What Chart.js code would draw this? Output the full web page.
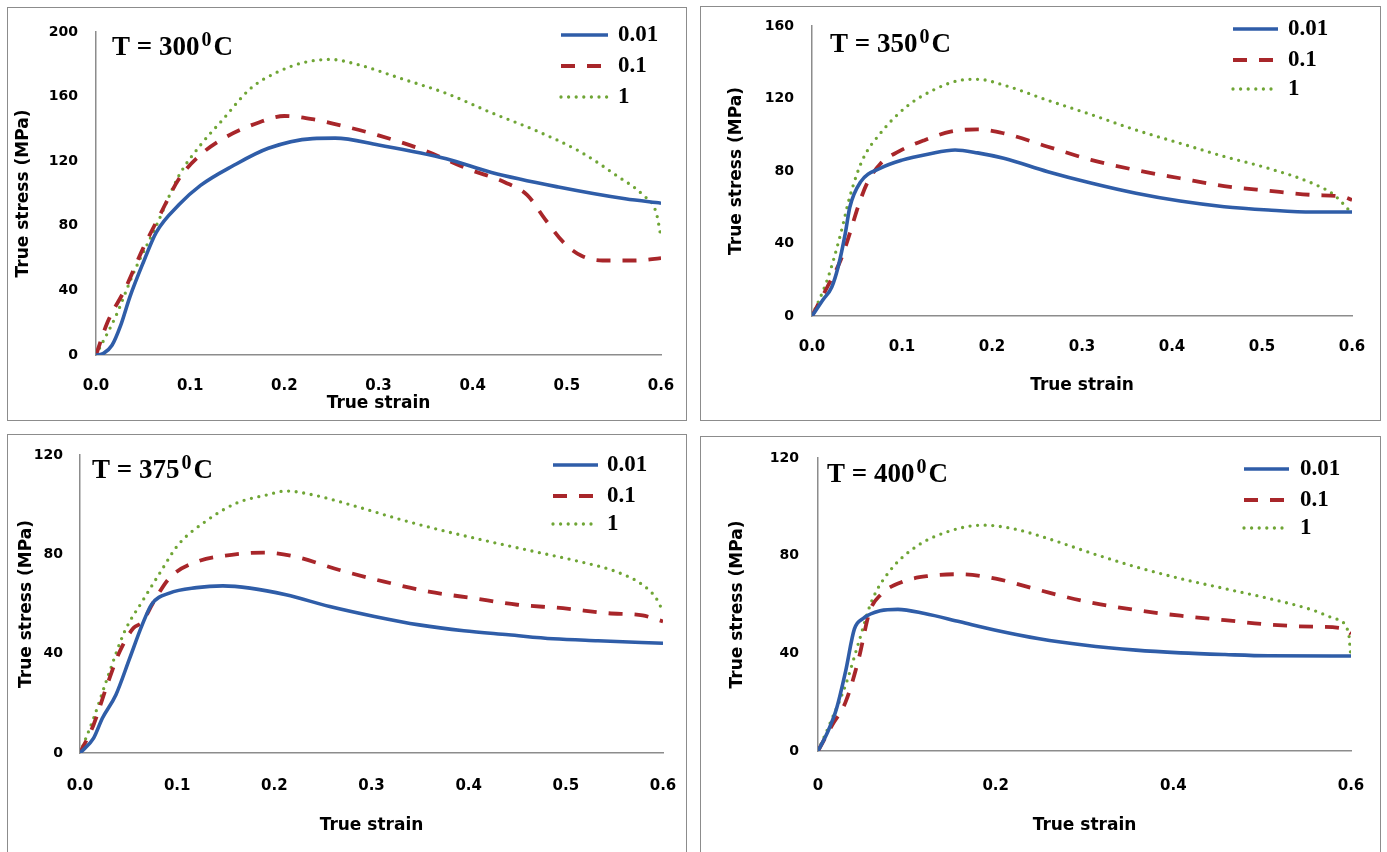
<!DOCTYPE html>
<html>
<head>
<meta charset="utf-8">
<title>True stress - true strain curves</title>
<script src="https://cdn.jsdelivr.net/npm/chart.js@4.4.0/dist/chart.umd.min.js"></script>
<style>
  html, body { margin: 0; padding: 0; background: #fff; width: 1387px; height: 852px; overflow: hidden; }
  .box { position: absolute; border: 1.5px solid #8c8c8c; box-sizing: border-box; }
  canvas { position: absolute; }
</style>
</head>
<body>
<script>
/* ===== Data (strain, stress in MPa) ===== */
const rateLabels = ['0.01', '0.1', '1'];
const temps = [300, 350, 375, 400];
const yMax = [200, 160, 120, 120];
const yStep = [40, 40, 40, 40];
const xStep = [0.1, 0.1, 0.1, 0.2];
const xTickLabels = [
  ['0.0', '0.1', '0.2', '0.3', '0.4', '0.5', '0.6'],
  ['0.0', '0.1', '0.2', '0.3', '0.4', '0.5', '0.6'],
  ['0.0', '0.1', '0.2', '0.3', '0.4', '0.5', '0.6'],
  ['0', '0.2', '0.4', '0.6']
];

// T = 300 C
const t300_r001 = [[0,0],[0.008,1],[0.017,6],[0.026,18],[0.036,36],[0.05,57],[0.064,76],[0.088,93],[0.111,105],[0.145,117],[0.183,128],[0.23,134],[0.254,134.3],[0.3,130],[0.372,121.5],[0.42,113],[0.491,104],[0.562,96.7],[0.6,94]];
const t300_r01 = [[0,0],[0.012,20],[0.031,41],[0.05,66],[0.069,88],[0.088,109],[0.111,124],[0.135,134],[0.173,144],[0.2,148],[0.23,146],[0.268,141],[0.3,136],[0.349,126.6],[0.396,115],[0.434,107],[0.458,99],[0.477,84],[0.496,70],[0.515,61.6],[0.538,58.5],[0.572,58.5],[0.6,60]];
const t300_r1 = [[0,0],[0.021,24],[0.04,51],[0.064,80],[0.088,111],[0.111,130],[0.135,146],[0.164,165],[0.192,175],[0.22,181],[0.249,183],[0.277,180],[0.325,171],[0.372,162],[0.42,150],[0.467,139],[0.515,125.6],[0.553,111],[0.581,99],[0.595,88],[0.6,73]];

// T = 350 C
const t350_r001 = [[0,0],[0.012,8.8],[0.022,16],[0.029,27],[0.037,45.6],[0.042,60],[0.054,74],[0.076,81.5],[0.1,86],[0.13,89.4],[0.159,91.6],[0.184,90],[0.213,87],[0.262,79.6],[0.311,73.2],[0.36,67.7],[0.409,63.4],[0.458,60.3],[0.507,58.5],[0.556,57.4],[0.6,57.4]];
const t350_r01 = [[0,0],[0.017,16],[0.032,31],[0.042,45.6],[0.051,60],[0.061,73],[0.076,84],[0.096,90.7],[0.125,97],[0.154,101.7],[0.184,103],[0.213,100.8],[0.262,93.4],[0.311,86],[0.36,80.5],[0.409,76],[0.458,71.7],[0.507,69.1],[0.556,66.8],[0.59,65.8],[0.6,64]];
const t350_r1 = [[0,0],[0.017,20],[0.032,45.6],[0.042,65.8],[0.056,86],[0.076,100.8],[0.105,115.5],[0.135,124.7],[0.164,130],[0.184,130.6],[0.213,127.4],[0.262,119],[0.311,111],[0.36,102.6],[0.409,95.3],[0.458,88],[0.507,81.5],[0.556,73.2],[0.58,66.8],[0.6,56.6]];

// T = 375 C
const t375_r001 = [[0,0],[0.014,6],[0.023,14],[0.037,23.5],[0.051,38],[0.064,51.6],[0.074,60],[0.092,64.4],[0.12,66.6],[0.147,67.3],[0.175,66.4],[0.212,63.7],[0.257,59],[0.303,55],[0.349,51.6],[0.395,49.2],[0.441,47.6],[0.487,46],[0.533,45.2],[0.6,44.2]];
const t375_r01 = [[0,0],[0.014,11.4],[0.028,27.5],[0.041,41],[0.055,50.3],[0.064,52.7],[0.076,61],[0.092,70.4],[0.12,77],[0.156,79.8],[0.189,80.7],[0.221,79.1],[0.267,73.7],[0.313,69],[0.359,65],[0.405,62.3],[0.45,59.7],[0.497,58.3],[0.543,56.3],[0.579,55.4],[0.6,53]];
const t375_r1 = [[0,0],[0.014,14],[0.028,30],[0.046,49],[0.064,61],[0.083,73],[0.101,83.8],[0.129,93.2],[0.161,100.6],[0.193,104],[0.212,105.5],[0.239,104],[0.285,99.2],[0.331,93.9],[0.377,89.2],[0.423,85],[0.469,81],[0.515,77],[0.552,73],[0.579,67.7],[0.593,62.3],[0.6,57]];

// T = 400 C
const t400_r001 = [[0,0],[0.011,7.9],[0.021,17.5],[0.031,32.5],[0.041,50],[0.051,54.3],[0.07,57.4],[0.09,58],[0.12,56.3],[0.16,52.9],[0.2,49.5],[0.249,46],[0.299,43.4],[0.358,41.3],[0.408,40.2],[0.458,39.5],[0.507,39],[0.6,38.9]];
const t400_r01 = [[0,0],[0.016,10.6],[0.031,20],[0.046,38],[0.058,57],[0.07,63.8],[0.095,69.3],[0.125,71.7],[0.16,72.4],[0.2,70.6],[0.249,65.9],[0.299,61.4],[0.358,57.7],[0.408,55.4],[0.458,53.6],[0.507,51.8],[0.557,50.9],[0.591,50.2],[0.6,48]];
const t400_r1 = [[0,0],[0.016,13.4],[0.031,27],[0.046,44.7],[0.06,61],[0.08,73.4],[0.11,83.6],[0.145,89.7],[0.185,92.5],[0.219,91.1],[0.259,87],[0.309,80.9],[0.358,75.4],[0.408,70.6],[0.458,66.5],[0.507,62.5],[0.557,57.7],[0.581,54.3],[0.597,48.8],[0.6,37.9]];

const seriesByTemp = [
  [t300_r001, t300_r01, t300_r1],
  [t350_r001, t350_r01, t350_r1],
  [t375_r001, t375_r01, t375_r1],
  [t400_r001, t400_r01, t400_r1]
];

/* ===== Styles ===== */
const lineStyles = [
  { color: '#2F5DA8', width: 3.6, dash: [], cap: 'butt' },
  { color: '#A8262A', width: 3.8, dash: [14, 12], cap: 'butt' },
  { color: '#6FA535', width: 3.3, dash: [0, 7.6], cap: 'round' }
];

// page layout of each panel: box = [left, top, right, bottom], plot = [left, top, right, bottom]
const layouts = [
  { box: [7, 7, 687, 421],    plot: [96, 32, 661, 355],    yPad: 18, xPad: 22, yTitleX: 24,  xTitleY: 404, title: [112, 55],  legend: { x1: 561, x2: 608, ys: [35, 66, 97], tx: 618 } },
  { box: [700, 6, 1381, 421], plot: [812, 26, 1352, 316],  yPad: 18, xPad: 22, yTitleX: 737, xTitleY: 386, title: [830, 52],  legend: { x1: 1233, x2: 1278, ys: [29, 60, 89], tx: 1288 } },
  { box: [7, 434, 687, 862],  plot: [80, 455, 663, 753],   yPad: 17, xPad: 24, yTitleX: 27,  xTitleY: 826, title: [92, 478],  legend: { x1: 553, x2: 598, ys: [465, 496, 524], tx: 607 } },
  { box: [700, 436, 1381, 862], plot: [818, 458, 1351, 751], yPad: 19, xPad: 26, yTitleX: 738, xTitleY: 826, title: [827, 482], legend: { x1: 1244, x2: 1289, ys: [469, 500, 528], tx: 1300 } }
];

const SANS = '"DejaVu Sans", Verdana, sans-serif';
const SERIF = '"Liberation Serif", "Times New Roman", serif';

/* ===== Plugin: temperature label + legend inside the plot ===== */
const decoPlugin = {
  id: 'deco',
  afterDraw(chart, args, opts) {
    const ctx = chart.ctx;
    const ox = opts.ox, oy = opts.oy;
    ctx.save();
    // T = xxx ^0 C
    ctx.fillStyle = '#000';
    ctx.textAlign = 'left';
    ctx.textBaseline = 'alphabetic';
    let x = opts.title[0] - ox;
    const y = opts.title[1] - oy;
    ctx.font = 'bold 27px ' + SERIF;
    const main = 'T = ' + opts.temp;
    ctx.fillText(main, x, y);
    x += ctx.measureText(main).width + 2;
    ctx.font = 'bold 20px ' + SERIF;
    ctx.fillText('0', x, y - 9);
    x += ctx.measureText('0').width + 2;
    ctx.font = 'bold 27px ' + SERIF;
    ctx.fillText('C', x, y);

    // legend
    const lg = opts.legend;
    chart.data.datasets.forEach((ds, i) => {
      const ly = lg.ys[i] - oy;
      ctx.save();
      ctx.strokeStyle = ds.borderColor;
      ctx.lineWidth = ds.borderWidth;
      ctx.lineCap = ds.borderCapStyle;
      ctx.setLineDash(ds.borderDash || []);
      ctx.beginPath();
      ctx.moveTo(lg.x1 - ox, ly);
      ctx.lineTo(lg.x2 - ox, ly);
      ctx.stroke();
      ctx.restore();
      ctx.fillStyle = '#000';
      ctx.font = 'bold 23px ' + SERIF;
      ctx.textBaseline = 'middle';
      ctx.fillText(ds.label, lg.tx - ox, ly);
    });
    ctx.restore();
  }
};

/* ===== Build the four panels ===== */
temps.forEach((temp, p) => {
  const L = layouts[p];
  const [bl, bt, br, bb] = L.box;
  const [pl, pt, pr, pb] = L.plot;
  const w = br - bl, h = bb - bt;

  const box = document.createElement('div');
  box.className = 'box';
  Object.assign(box.style, { left: bl + 'px', top: bt + 'px', width: w + 'px', height: h + 'px' });
  document.body.appendChild(box);

  const canvas = document.createElement('canvas');
  canvas.width = w;
  canvas.height = h;
  Object.assign(canvas.style, { left: bl + 'px', top: bt + 'px', width: w + 'px', height: h + 'px' });
  document.body.appendChild(canvas);

  const datasets = seriesByTemp[p].map((pts, i) => ({
    label: rateLabels[i],
    data: pts.map(d => ({ x: d[0], y: d[1] })),
    showLine: true,
    borderColor: lineStyles[i].color,
    backgroundColor: lineStyles[i].color,
    borderWidth: lineStyles[i].width,
    borderDash: lineStyles[i].dash,
    borderCapStyle: lineStyles[i].cap,
    borderJoinStyle: 'round',
    pointRadius: 0,
    tension: 0.4,
    cubicInterpolationMode: 'monotone',
    fill: false
  }));

  const titleLineH = 17 * 1.2;

  new Chart(canvas, {
    type: 'scatter',
    data: { datasets },
    plugins: [decoPlugin],
    options: {
      responsive: false,
      animation: false,
      devicePixelRatio: 1,
      layout: { padding: { left: 0, bottom: 0, top: pt - bt, right: br - pr } },
      plugins: {
        legend: { display: false },
        tooltip: { enabled: false },
        deco: { ox: bl, oy: bt, temp, title: L.title, legend: L.legend }
      },
      scales: {
        x: {
          type: 'linear',
          min: 0,
          max: 0.6,
          afterFit: s => { s.height = bb - pb; },
          // invisible tick marks give the gap between axis and labels
          grid: { display: false, drawTicks: true, tickLength: L.xPad, color: 'rgba(0,0,0,0)' },
          border: { display: true, color: '#8c8c8c', width: 1.5 },
          ticks: {
            stepSize: xStep[p],
            padding: 0,
            color: '#000',
            font: { family: SANS, size: 15, weight: 'bold' },
            maxRotation: 0,
            autoSkip: false,
            callback: (v, i) => xTickLabels[p][i]
          },
          title: {
            display: true,
            text: 'True strain',
            color: '#000',
            font: { family: SANS, size: 17, weight: 'bold' },
            padding: { top: 0, bottom: (bb - L.xTitleY) - titleLineH / 2 }
          }
        },
        y: {
          type: 'linear',
          min: 0,
          max: yMax[p],
          afterFit: s => { s.width = pl - bl; },
          grid: { display: false, drawTicks: true, tickLength: L.yPad, color: 'rgba(0,0,0,0)' },
          border: { display: true, color: '#8c8c8c', width: 1.5 },
          ticks: {
            stepSize: yStep[p],
            padding: 0,
            color: '#000',
            font: { family: SANS, size: 14, weight: 'bold' }
          },
          title: {
            display: true,
            text: 'True stress (MPa)',
            color: '#000',
            font: { family: SANS, size: 17, weight: 'bold' },
            padding: { top: (L.yTitleX - bl) - titleLineH / 2, bottom: 0 }
          }
        }
      }
    }
  });
});
</script>
</body>
</html>
